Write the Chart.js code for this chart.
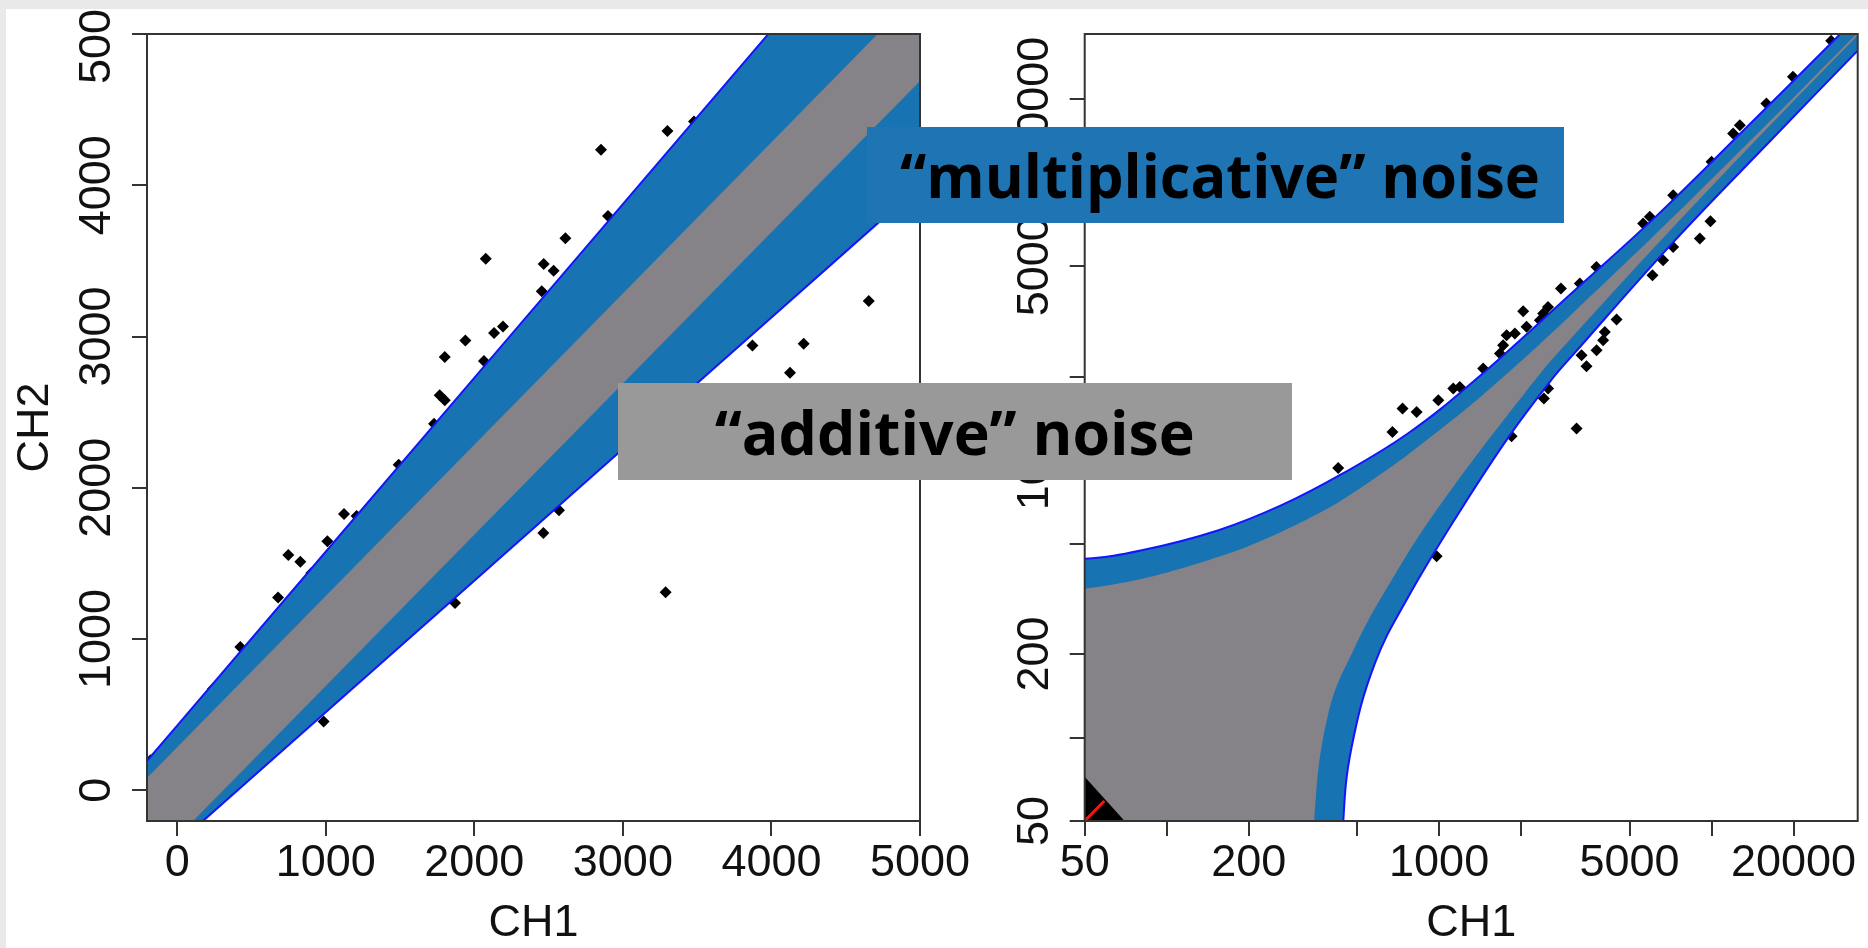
<!DOCTYPE html>
<html>
<head>
<meta charset="utf-8">
<script src="https://cdn.jsdelivr.net/npm/chart.js@4.4.0/dist/chart.umd.min.js"></script>
<style>
  html, body { margin: 0; padding: 0; }
  body { width: 1868px; height: 948px; background: #e9e9e9; position: relative; overflow: hidden; }
  #sheet { position: absolute; left: 6px; top: 9px; width: 1862px; height: 939px; background: #fff; overflow: hidden; }
  #linCanvas { position: absolute; left: 0; top: 0; }
  #logCanvas { position: absolute; left: 954px; top: 0; }
  .note { position: absolute; display: flex; align-items: center; justify-content: center;
          font-family: 'Open Sans', 'DejaVu Sans', sans-serif; font-weight: 700; font-size: 60px;
          color: #000; white-space: nowrap; z-index: 5; }
  .note span { display: inline-block; }
</style>
</head>
<body>
<div id="sheet">
  <canvas id="linCanvas" width="1000" height="939"></canvas>
  <canvas id="logCanvas" width="908" height="939"></canvas>
</div>
<div class="note" id="multNote" style="left:867px; top:127px; width:697px; height:96px; background:#1f75b4; padding-left:8px; box-sizing:border-box;"><span>“multiplicative” noise</span></div>
<div class="note" id="addNote" style="left:618px; top:383px; width:674px; height:97px; background:#999999;"><span>“additive” noise</span></div>

<script>
Chart.defaults.font.family = "'Liberation Sans', Arial, sans-serif";
Chart.defaults.color = '#111';
Chart.defaults.animation = false;

// ---------- left panel (linear) ----------
const linMin = -203, linMax = 5000;
const linTicks = [0, 1000, 2000, 3000, 4000, 5000];

const linSpotX = [3479, 3300, 2853, 2900, 2613, 2077, 2467, 2534, 2454, 2193, 2133, 1940, 1801, 2065,
                  1767, 1801, 1729, 4655, 4217, 3872, 4125, 3288, 2570, 2465, 1870, 1491, 1123, 1208,
                  1011, 748, 829, 903, 679, 425, 241, -180, 986];
const linSpotY = [4422, 4358, 4235, 3796, 3650, 3514, 3479, 3435, 3300, 3067, 3023, 2974, 2864, 2838,
                  2611, 2578, 2424, 3234, 2952, 2941, 2761, 1309, 1851, 1701, 1238, 2153, 1826, 1813,
                  1646, 1555, 1511, 1436, 1274, 947, 672, 198, 454];

// band edges: upper edge left->right, lower edge right->left
const linBlueUpX = [-400, 0, 1000, 2000, 3000, 4000];
const linBlueUpY = [-32, 428, 1577, 2726, 3875, 5024];
const linBlueLoX = [5600, 5000, 4000, 3000, 2000, 1000, 177, 0];
const linBlueLoY = [4518, 3996, 3126, 2256, 1386, 516, -200, -354];
const linGrayUpX = [-600, 0, 1000, 2000, 3000, 4000, 4800];
const linGrayUpY = [-315, 285, 1285, 2285, 3285, 4285, 5085];
const linGrayLoX = [5600, 5000, 4000, 3000, 2000, 1000, 0, -400];
const linGrayLoY = [5290, 4690, 3690, 2690, 1690, 690, -310, -710];
const linCornerHi = [5600, 5600];
const linCornerLo = [-600, -600];

// ---------- right panel (log) ----------
const logMin = 50, logMax = 34400;
const logTicks = [50, 100, 200, 500, 1000, 2000, 5000, 10000, 20000];
const logTickLabels = [50, 200, 1000, 5000, 20000];

const logSpotX = [19900, 27500, 15900, 12000, 12700, 10000, 7230, 5610, 5935, 3780, 3285, 2800, 2510,
                  2035, 2410, 2344, 2094, 1769, 1897, 1718, 1672, 1451, 1127, 1191, 993, 827, 734, 674,
                  426, 979, 9910, 9056, 7227, 6640, 6070, 4480, 4058, 4000, 3784, 3334, 3476, 2512,
                  2424, 3196, 1845];
const logSpotY = [24100, 32500, 19300, 15060, 16130, 11900, 9020, 7130, 7540, 4975, 4335, 4160, 3570,
                  3444, 3380, 3196, 3024, 2822, 2864, 2597, 2424, 2140, 1812, 1837, 1644, 1492, 1535, 1264,
                  937, 450, 7270, 6300, 5874, 5261, 4645, 3215, 2900, 2708, 2492, 2388, 2181, 1812,
                  1668, 1301, 1219];

const logBlueUpX = [10, 50, 81, 155, 264, 438, 770, 1352, 3105, 6281, 12700, 27930, 60000];
const logBlueUpY = [420, 441, 473, 559, 688, 890, 1250, 1941, 4050, 7600, 15000, 32400, 69000];
const logBlueLoX = [60000, 33085, 16826, 7227, 3105, 2587, 1793, 1175, 770, 581, 477, 445, 420];
const logBlueLoY = [52000, 28800, 14500, 6100, 2400, 1950, 1206, 640, 321, 185, 92, 50, 10];
const logGrayUpX = [10, 50, 142, 331, 581, 1021, 1558, 3000, 10000, 60000];
const logGrayUpY = [305, 344, 436, 615, 860, 1300, 1830, 3290, 10290, 60290];
const logGrayLoX = [60000, 10000, 3000, 2246, 1021, 669, 491, 392, 348, 330];
const logGrayLoY = [59700, 9700, 2700, 1941, 700, 369, 212, 122, 50, 10];
const logCornerHi = [100000, 100000];
const logCornerLo = [10, 10];
// dense low-intensity cloud and its diagonal in the bottom-left corner
const logCloudX = [40, 40, 86];
const logCloudY = [40, 92, 40];
const logDiagX = [40, 59];
const logDiagY = [40, 59];

const bandBlue = '#1873b3';
const bandGray = '#858387';

const xy = (xs, ys) => xs.map((x, i) => ({ x: x, y: ys[i] }));
const band = (ux, uy, hi, lx, ly, lo) =>
  xy(ux, uy).concat([{ x: hi[0], y: hi[1] }], xy(lx, ly), [{ x: lo[0], y: lo[1] }]);

const framePlugin = {
  id: 'frame',
  afterDatasetsDraw(chart) {
    const a = chart.chartArea, ctx = chart.ctx;
    ctx.save();
    ctx.strokeStyle = '#333';
    ctx.lineWidth = 2;
    ctx.strokeRect(a.left, a.top, a.right - a.left, a.bottom - a.top);
    ctx.restore();
  }
};

function spots(xs, ys) {
  return { data: xy(xs, ys), pointStyle: 'rectRot', pointRadius: 6, backgroundColor: '#000',
           borderWidth: 0, showLine: false, order: 5 };
}
function area(points, color, edge, order, tension) {
  return { data: points, showLine: true, fill: 'shape', backgroundColor: color,
           borderColor: edge || color, borderWidth: edge ? 2 : 0, pointRadius: 0,
           tension: tension || 0, order: order };
}

function axis(type, min, max, ticks, labelFn, size, isY, pad, title) {
  return {
    type: type, min: min, max: max, bounds: 'data',
    afterBuildTicks: (s) => { s.ticks = ticks.map(v => ({ value: v })); },
    afterFit: (s) => { if (isY) s.width = size; else s.height = size; },
    grid: { display: true, drawOnChartArea: false, drawTicks: true, tickLength: 15, color: '#333', lineWidth: 2 },
    border: { display: false },
    ticks: Object.assign({ color: '#111', font: { size: 45 }, autoSkip: false, callback: labelFn },
      isY ? { minRotation: 90, maxRotation: 90, crossAlign: 'center', padding: pad }
          : { minRotation: 0, maxRotation: 0, padding: pad }),
    title: title ? Object.assign({ display: true, color: '#111', font: { size: 45 } }, title) : { display: false }
  };
}

new Chart(document.getElementById('linCanvas'), {
  type: 'scatter',
  data: {
    datasets: [
      spots(linSpotX, linSpotY),
      area(band(linBlueUpX, linBlueUpY, linCornerHi, linBlueLoX, linBlueLoY, linCornerLo), bandBlue, '#1414ff', 4),
      area(band(linGrayUpX, linGrayUpY, linCornerHi, linGrayLoX, linGrayLoY, linCornerLo), bandGray, null, 3)
    ]
  },
  options: {
    responsive: false,
    animation: false,
    layout: { padding: { top: 25, right: 86, bottom: 0, left: 0 } },
    plugins: { legend: { display: false }, tooltip: { enabled: false } },
    scales: {
      x: axis('linear', linMin, linMax, linTicks, v => String(v), 127, false, 1,
              { text: 'CH1', padding: { top: 0, bottom: -3 } }),
      y: axis('linear', linMin, linMax, linTicks, v => String(v), 141, true, -16,
              { text: 'CH2', padding: { top: 3, bottom: 0 } })
    }
  },
  plugins: [framePlugin]
});

const logLabel = v => logTickLabels.includes(v) ? String(v) : '';

new Chart(document.getElementById('logCanvas'), {
  type: 'scatter',
  data: {
    datasets: [
      spots(logSpotX, logSpotY),
      area(band(logBlueUpX, logBlueUpY, logCornerHi, logBlueLoX, logBlueLoY, logCornerLo), bandBlue, '#1414ff', 4, 0.4),
      area(band(logGrayUpX, logGrayUpY, logCornerHi, logGrayLoX, logGrayLoY, logCornerLo), bandGray, null, 3, 0.4),
      area(xy(logCloudX, logCloudY), '#000', null, 2),
      { data: xy(logDiagX, logDiagY), showLine: true, borderColor: '#ff1010', borderWidth: 3, pointRadius: 0, order: 1 }
    ]
  },
  options: {
    responsive: false,
    animation: false,
    layout: { padding: { top: 25, right: 10.3, bottom: 0, left: 0 } },
    plugins: { legend: { display: false }, tooltip: { enabled: false } },
    scales: {
      x: axis('logarithmic', logMin, logMax, logTicks, logLabel, 127, false, 1,
              { text: 'CH1', padding: { top: 0, bottom: -3 } }),
      y: axis('logarithmic', logMin, logMax, logTicks, logLabel, 124.7, true, -28, null)
    }
  },
  plugins: [framePlugin]
});

// squeeze the note texts to the width they take in the picture
function fitNote(id, target) {
  const span = document.querySelector('#' + id + ' span');
  span.style.transform = 'none';
  const w = span.getBoundingClientRect().width;
  span.style.transform = 'scaleX(' + (target / w) + ')';
}
const fitAll = () => { fitNote('multNote', 640); fitNote('addNote', 480); };
if (document.fonts && document.fonts.ready) document.fonts.ready.then(fitAll);
fitAll();
</script>
</body>
</html>
